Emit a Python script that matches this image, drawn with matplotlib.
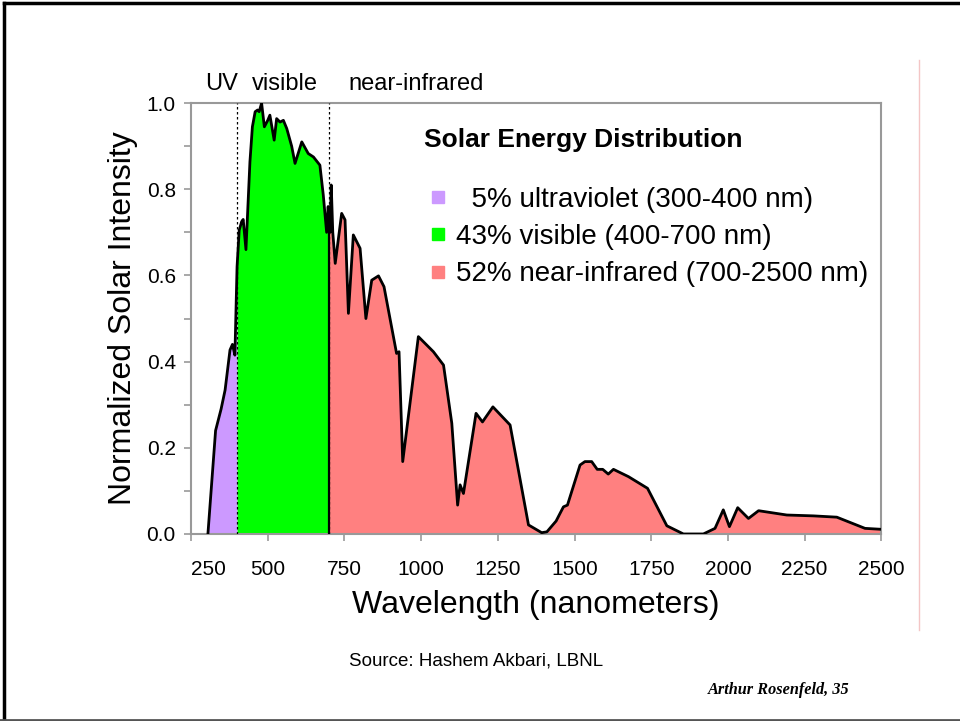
import numpy as np
import matplotlib
matplotlib.use("Agg")
import matplotlib.pyplot as plt
from matplotlib.lines import Line2D
from matplotlib.ticker import MultipleLocator

plt.rcParams["font.family"] = ["Liberation Sans", "DejaVu Sans"]

# spectrum (wavelength in nm, normalized intensity)
wavelength = [305, 330, 339, 348, 361, 377, 385, 393, 400, 407, 415, 420, 429,
              442, 450, 459, 467, 472, 480, 489, 500, 507, 521, 529, 540, 551,
              562, 578, 589, 611, 632, 649, 670, 681, 692, 697, 700, 703, 707,
              712, 720, 741, 752, 763, 779, 801, 820, 839, 861, 879, 920, 928,
              940, 991, 1040, 1073, 1100, 1119, 1127, 1138, 1179, 1200, 1234,
              1290, 1350, 1393, 1410, 1440, 1453, 1464, 1477, 1518, 1534, 1556,
              1574, 1592, 1610, 1627, 1676, 1738, 1801, 1855, 1920, 1958, 1985,
              2005, 2032, 2067, 2100, 2192, 2279, 2355, 2447, 2496]
intensity = [0.0, 0.24, 0.265, 0.29, 0.334, 0.427, 0.44, 0.415, 0.62, 0.705,
             0.725, 0.73, 0.66, 0.864, 0.945, 0.98, 0.984, 0.98, 1.0, 0.945,
             0.96, 0.972, 0.914, 0.964, 0.956, 0.96, 0.941, 0.90, 0.86, 0.91,
             0.883, 0.875, 0.856, 0.787, 0.70, 0.76, 0.72, 0.70, 0.81, 0.70,
             0.628, 0.744, 0.729, 0.512, 0.694, 0.663, 0.50, 0.589, 0.599,
             0.574, 0.419, 0.423, 0.168, 0.458, 0.423, 0.392, 0.257, 0.067,
             0.114, 0.094, 0.28, 0.26, 0.295, 0.253, 0.021, 0.003, 0.005, 0.03,
             0.048, 0.063, 0.067, 0.16, 0.168, 0.168, 0.15, 0.15, 0.139, 0.15,
             0.133, 0.106, 0.019, 0.0, 0.0, 0.013, 0.056, 0.017, 0.061, 0.036,
             0.054, 0.044, 0.042, 0.039, 0.013, 0.011]

band_edges = [400, 700]
band_colors = ["#CC99FF", "#00FF00", "#FF8080"]
band_labels = ["  5% ultraviolet (300-400 nm)",
               "43% visible (400-700 nm)",
               "52% near-infrared (700-2500 nm)"]
region_names = ["UV", "visible", "near-infrared"]
region_pos = [348, 556, 984]

wl = np.array(wavelength)
val = np.array(intensity)

fig = plt.figure(figsize=(9.6, 7.21), dpi=100)
ax = fig.add_axes([0.199, 0.2594, 0.719, 0.5976])

# coloured bands under the curve
masks = [wl <= band_edges[0],
         (wl >= band_edges[0]) & (wl <= band_edges[1]),
         wl >= band_edges[1]]
for m, c in zip(masks, band_colors):
    ax.fill_between(wl[m], 0, val[m], color=c, linewidth=0)

ax.plot(wl, val, color="black", linewidth=2.0, zorder=4)

# band boundaries
for edge in band_edges:
    ax.axvline(edge, color="black", linestyle=(0, (2, 2)), linewidth=0.9, zorder=3)
edge_val = val[list(wavelength).index(band_edges[1])]
ax.vlines(band_edges[1], 0, edge_val, color="black", linewidth=1.6, zorder=4)

for name, pos in zip(region_names, region_pos):
    ax.text(pos, 1.044, name, transform=ax.get_xaxis_transform(),
            ha="center", va="center", fontsize=17)

ax.set_xlim(250, 2500)
ax.set_ylim(0, 1.0)
ax.xaxis.set_major_locator(MultipleLocator(250))
ax.yaxis.set_major_locator(MultipleLocator(0.2))
ax.yaxis.set_minor_locator(MultipleLocator(0.1))
ax.yaxis.set_major_formatter(lambda v, p: f"{v:.1f}")
ax.tick_params(which="both", direction="out", length=5, width=1.2,
               color="#999999", labelsize=15)
ax.tick_params(axis="x", pad=14)
ax.tick_params(axis="y", pad=6)
for s in ax.spines.values():
    s.set_color("#999999")
    s.set_linewidth(1.5)

ax.set_xlabel("Wavelength (nanometers)", fontsize=23, labelpad=8)
ax.set_ylabel("Normalized Solar Intensity", fontsize=23, labelpad=6)

ax.text(0.338, 0.914, "Solar Energy Distribution", transform=ax.transAxes,
        fontsize=19, weight="bold", va="center", ha="left")

handles = [Line2D([], [], marker="s", linestyle="none", markersize=9,
                  markerfacecolor=c, markeredgecolor=c) for c in band_colors]
leg = ax.legend(handles, band_labels, loc="upper left",
                bbox_to_anchor=(0.342, 0.806), frameon=False, fontsize=20,
                handletextpad=0.25, labelspacing=0.41, handlelength=0.8,
                borderaxespad=0, borderpad=0)

fig.text(0.364, 0.083, "Source: Hashem Akbari, LBNL", fontsize=13.5,
         va="center")
fig.text(0.737, 0.043, "Arthur Rosenfeld, 35", fontsize=11.7,
         family="Liberation Serif", weight="bold", style="italic", va="center")

# slide decorations
fig.add_artist(Line2D([0.957, 0.957], [0.917, 0.126], color="#F4C6C6",
                      linewidth=1.0))
fig.add_artist(Line2D([0.004, 0.004], [0.0, 0.996], color="black", linewidth=2.5))
fig.add_artist(Line2D([0.004, 1.0], [0.996, 0.996], color="black", linewidth=2.5))
fig.add_artist(Line2D([0.0, 1.0], [0.002, 0.002], color="#555555", linewidth=2.0))

# first x label sits to the right of its tick, clear of "0.0"
fig.canvas.draw()
for lbl in ax.get_xticklabels():
    if lbl.get_text() == "250":
        lbl.set_horizontalalignment("left")

fig.savefig("out.png", dpi=100)
